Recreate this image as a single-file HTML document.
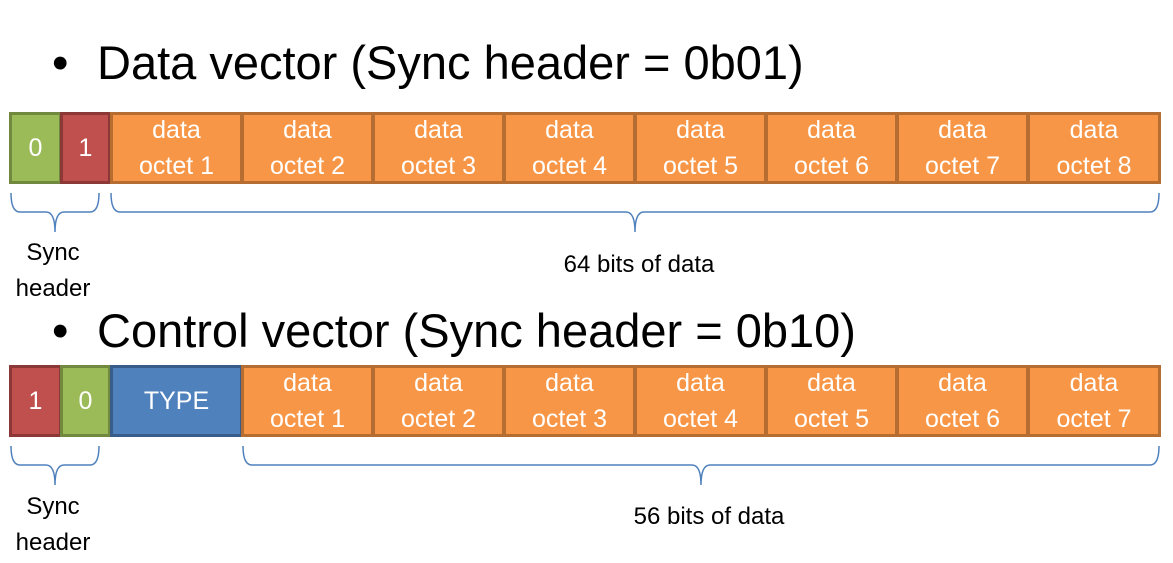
<!DOCTYPE html>
<html><head><style>
body{margin:0;width:1173px;height:563px;background:#fff;position:relative;overflow:hidden;font-family:"Liberation Sans",sans-serif}
.t{position:absolute;white-space:nowrap}
.b{position:absolute;box-sizing:border-box;border:3px solid;color:#fff;font-size:25px;text-align:center;display:flex;align-items:center;justify-content:center;line-height:36px}
.o{background:#f79646;border-color:#b66d31}
.g{background:#9bbb59;border-color:#71893f}
.r{background:#c0504d;border-color:#8c3836}
.u{background:#4f81bd;border-color:#385d8a}
.l{position:absolute;font-size:24px;color:#000;text-align:center;line-height:36px}
</style></head><body>
<div class="t" style="left:52px;top:34px;font-size:47px;line-height:58px">•</div>
<div class="t" style="left:97px;top:34px;font-size:47px;line-height:58px">Data vector (Sync header = 0b01)</div>
<div class="t" style="left:52px;top:302px;font-size:47px;line-height:58px">•</div>
<div class="t" style="left:97px;top:302px;font-size:47px;line-height:58px">Control vector (Sync header = 0b10)</div>

<div class="b g" style="left:9px;top:112px;width:53px;height:72px">0</div>
<div class="b r" style="left:60px;top:112px;width:51px;height:72px">1</div>
<div class="b o" style="left:110px;top:112px;width:133px;height:72px">data<br>octet 1</div>
<div class="b o" style="left:241px;top:112px;width:133px;height:72px">data<br>octet 2</div>
<div class="b o" style="left:372px;top:112px;width:133px;height:72px">data<br>octet 3</div>
<div class="b o" style="left:503px;top:112px;width:133px;height:72px">data<br>octet 4</div>
<div class="b o" style="left:634px;top:112px;width:133px;height:72px">data<br>octet 5</div>
<div class="b o" style="left:765px;top:112px;width:133px;height:72px">data<br>octet 6</div>
<div class="b o" style="left:896px;top:112px;width:133px;height:72px">data<br>octet 7</div>
<div class="b o" style="left:1027px;top:112px;width:134px;height:72px">data<br>octet 8</div>

<div class="b r" style="left:9px;top:365px;width:53px;height:72px">1</div>
<div class="b g" style="left:60px;top:365px;width:51px;height:72px">0</div>
<div class="b u" style="left:110px;top:365px;width:133px;height:72px">TYPE</div>
<div class="b o" style="left:241px;top:365px;width:133px;height:72px">data<br>octet 1</div>
<div class="b o" style="left:372px;top:365px;width:133px;height:72px">data<br>octet 2</div>
<div class="b o" style="left:503px;top:365px;width:133px;height:72px">data<br>octet 3</div>
<div class="b o" style="left:634px;top:365px;width:133px;height:72px">data<br>octet 4</div>
<div class="b o" style="left:765px;top:365px;width:133px;height:72px">data<br>octet 5</div>
<div class="b o" style="left:896px;top:365px;width:133px;height:72px">data<br>octet 6</div>
<div class="b o" style="left:1027px;top:365px;width:134px;height:72px">data<br>octet 7</div>

<svg width="1173" height="563" style="position:absolute;left:0;top:0" fill="none" stroke="#4f81bd" stroke-width="1.5">
<path d="M11,193 Q11,212 20,212 L46,212 Q55,212 55,232 Q55,212 64,212 L90,212 Q99,212 99,193"/>
<path d="M111,193 Q111,212 120,212 L626,212 Q635,212 635,232 Q635,212 644,212 L1150,212 Q1159,212 1159,193"/>
<path d="M11,446 Q11,465 20,465 L46,465 Q55,465 55,485 Q55,465 64,465 L90,465 Q99,465 99,446"/>
<path d="M243,446 Q243,465 252,465 L692,465 Q701,465 701,485 Q701,465 710,465 L1150,465 Q1159,465 1159,446"/>
</svg>

<div class="l" style="left:3px;top:235px;width:100px">Sync<br>header</div>
<div class="l" style="left:489px;top:247px;width:300px">64 bits of data</div>
<div class="l" style="left:3px;top:489px;width:100px">Sync<br>header</div>
<div class="l" style="left:559px;top:499px;width:300px">56 bits of data</div>
</body></html>
